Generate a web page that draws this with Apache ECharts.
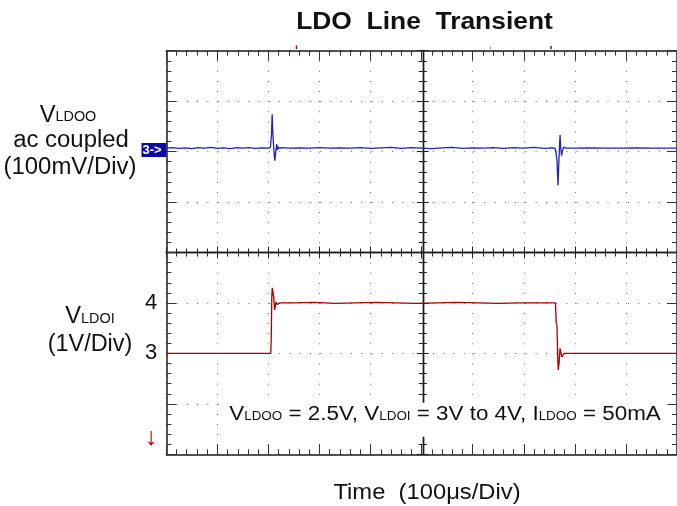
<!DOCTYPE html>
<html><head><meta charset="utf-8">
<script src="https://cdn.jsdelivr.net/npm/echarts@6/dist/echarts.min.js"></script>
<style>html,body{margin:0;padding:0;background:#fff}#c{width:677px;height:506px}</style>
</head><body><div id="c"></div>
<script>
// ---- data ----
// Time axis: 100 µs/div, 10 divisions
const timeMin = 0, timeMax = 1000, timeStep = 100;
// V_LDOO (ac coupled, mV, 100 mV/div)
const blueTimeUs = [0, 12, 25, 38, 50, 62, 75, 88, 100, 112, 125, 138, 150, 162, 175, 188, 200, 204, 206, 207.3, 208.5, 210, 211.5, 212.5, 214, 216, 217.5, 219, 221, 225, 240, 260, 280, 300, 320, 340, 360, 380, 400, 420, 440, 460, 480, 500, 520, 540, 560, 580, 600, 620, 640, 660, 680, 700, 720, 740, 755, 761, 763, 765, 767, 768.5, 770, 771, 772.5, 774, 776, 778, 782, 800, 830, 860, 890, 920, 950, 980, 1000];
const blueMv = [7, 8, 6.5, 7.5, 6, 8, 7, 8.5, 6.5, 7.5, 6, 8, 7, 8, 6.5, 7.5, 7, 9, 35, 74, 40, 12, -8, -18, -4, 15, 3, 10, 6, 8, 7, 7.5, 7, 8, 7, 7.5, 7, 8, 6.5, 7.5, 8.5, 6.5, 8, 7, 6, 7.5, 8.5, 6.5, 7.5, 7, 8, 6.5, 8, 7, 8.5, 6.5, 7.5, 7, -2, -17, -67, -25, 12, 33, 5, -8, 3, 9, 7, 7, 7.5, 7, 7, 7.5, 7, 7, 7];
// V_LDOI (V, 1 V/div)
const redTimeUs = [0, 100, 204.5, 205.5, 206.5, 207.5, 209, 210.5, 212, 213.5, 215, 217, 219, 222, 250, 290, 330, 370, 410, 450, 490, 530, 570, 610, 650, 690, 730, 762, 763.5, 765, 766.5, 767.5, 769, 771, 772.5, 774.5, 776.5, 779, 800, 900, 1000];
const redVolts = [3.0, 3.0, 3.0, 3.3, 4.1, 4.3, 4.28, 4.1, 3.86, 3.87, 4.02, 3.97, 4.0, 4.0, 4.0, 4.01, 3.99, 4.0, 4.01, 4.0, 3.99, 4.0, 4.01, 4.0, 3.99, 4.0, 4.0, 4.0, 3.6, 3.55, 2.9, 2.67, 2.8, 3.1, 3.08, 2.93, 2.95, 3.0, 3.0, 3.0, 3.0];
// Axis ranges / tick labels
const voltMin = 1, voltMax = 9, voltStep = 1;
const voltTickLabels = [3, 4];
const mvMin = -600, mvMax = 200, mvStep = 100;
const divMin = 0, divMax = 8, divStep = 1;      // vertical divisions (frame only)

const FONT = 'Liberation Sans, Arial, Helvetica, sans-serif';
const chart = echarts.init(document.getElementById('c'), null, {renderer: 'canvas'});

const G = {left: 166.3, top: 50.7, width: 513, height: 403.6};
const HH = G.height / 2, HW = G.width / 2;
const borderLine = {show: true, onZero: false, lineStyle: {color: '#1a1a1a', width: 1.5}};
const borderTick = {show: true, inside: true, length: 10, lineStyle: {color: '#333', width: 1}};
const borderMinor = {show: true, splitNumber: 5, length: 5, lineStyle: {color: '#333', width: 1}};
const centerLine = {show: true, onZero: false, lineStyle: {color: '#1a1a1a', width: 1.4}};
const centerTick = {show: true, inside: true, length: 6, lineStyle: {color: '#222', width: 1}};
const centerMinor = {show: true, splitNumber: 5, length: 4, lineStyle: {color: '#222', width: 1}};
const dotX = {show: true, lineStyle: {color: '#707070', width: 1, type: [1, G.height / 40 - 1]}};
const dotY = {show: true, lineStyle: {color: '#707070', width: 1, type: [1, G.width / 50 - 1]}};

function xAx(grid, pos, line, tick, minor, split) {
  return {gridIndex: grid, type: 'value', min: timeMin, max: timeMax, interval: timeStep, position: pos,
    axisLine: line, axisTick: tick, minorTick: minor, axisLabel: {show: false},
    splitLine: split || {show: false}, minorSplitLine: {show: false}};
}
function yAx(grid, pos, min, max, step, line, tick, minor, split, label) {
  return {gridIndex: grid, type: 'value', min: min, max: max, interval: step, position: pos,
    axisLine: line, axisTick: tick, minorTick: minor, axisLabel: label || {show: false},
    splitLine: split || {show: false}, minorSplitLine: {show: false}};
}
function hidden(grid, min, max, step) {
  return {gridIndex: grid, type: 'value', show: false, min: min, max: max, interval: step,
    axisLine: {onZero: false}, splitLine: {show: false}};
}

const option = {
  animation: false,
  backgroundColor: '#ffffff',
  grid: [
    {left: G.left, top: G.top, width: G.width, height: G.height},            // full frame + data
    {left: G.left, top: G.top, width: G.width, height: HH},                  // upper half
    {left: G.left, top: G.top + HH, width: G.width, height: HH},             // lower half
    {left: G.left, top: G.top, width: HW, height: G.height},                 // left half
    {left: G.left + HW, top: G.top, width: HW, height: G.height}             // right half
  ],
  xAxis: [
    xAx(0, 'bottom', borderLine, borderTick, borderMinor, dotX),
    xAx(0, 'top', borderLine, borderTick, borderMinor),
    xAx(1, 'bottom', centerLine, centerTick, centerMinor),
    xAx(2, 'top', centerLine, centerTick, centerMinor),
    hidden(3, 0, 1, 1),
    hidden(4, 0, 1, 1)
  ],
  yAxis: [
    yAx(0, 'left', voltMin, voltMax, voltStep, borderLine, borderTick, borderMinor, dotY,
      {show: true, margin: 9, fontSize: 22, color: '#111', fontFamily: FONT,
       formatter: v => voltTickLabels.includes(v) ? String(v) : ''}),
    yAx(0, 'right', mvMin, mvMax, mvStep, borderLine, borderTick, borderMinor),
    hidden(1, 0, 1, 1),
    hidden(2, 0, 1, 1),
    yAx(3, 'right', divMin, divMax, divStep, centerLine, centerTick, centerMinor),
    yAx(4, 'left', divMin, divMax, divStep, centerLine, centerTick, centerMinor)
  ],
  series: [
    {type: 'line', name: 'VLDOI', xAxisIndex: 0, yAxisIndex: 0, showSymbol: false, symbol: 'none',
     lineStyle: {color: '#a30000', width: 1.3}, z: 3,
     data: redTimeUs.map((t, i) => [t, redVolts[i]])},
    {type: 'line', name: 'VLDOO', xAxisIndex: 0, yAxisIndex: 1, showSymbol: false, symbol: 'none',
     lineStyle: {color: '#2323b4', width: 1.3}, z: 3,
     data: blueTimeUs.map((t, i) => [t, blueMv[i]])}
  ],
  graphic: [
    {type: 'text', x: 424.5, y: 22, z: 10, scaleX: 1.1,
     style: {text: 'LDO  Line  Transient', font: 'bold 24px ' + FONT, fill: '#111', align: 'center', verticalAlign: 'middle'}},
    {type: 'line', z: 10, shape: {x1: 296.5, y1: 45.5, x2: 296.5, y2: 49}, style: {stroke: '#a30000', lineWidth: 1.5}},
    {type: 'line', z: 10, shape: {x1: 490.5, y1: 47, x2: 490.5, y2: 49}, style: {stroke: '#c08080', lineWidth: 1}},
    {type: 'line', z: 10, shape: {x1: 551, y1: 46, x2: 551, y2: 49}, style: {stroke: '#333', lineWidth: 1.5}},
    {type: 'text', x: 68, y: 115.3, z: 10, scaleX: 1.03,
     style: {text: '{b|V}{s|LDOO}', fill: '#111', align: 'center', verticalAlign: 'middle',
       rich: {b: {fontSize: 23, fontFamily: FONT, lineHeight: 23, verticalAlign: 'bottom', fill: '#111'},
              s: {fontSize: 14, fontFamily: FONT, lineHeight: 16.8, verticalAlign: 'bottom', padding: [0, 0, 2.5, 0], fill: '#111'}}}},
    {type: 'text', x: 71, y: 140.8, z: 10, scaleX: 1.04,
     style: {text: 'ac coupled', font: '23px ' + FONT, fill: '#111', align: 'center', verticalAlign: 'middle'}},
    {type: 'text', x: 70, y: 168, z: 10, scaleX: 1.04,
     style: {text: '(100mV/Div)', font: '23px ' + FONT, fill: '#111', align: 'center', verticalAlign: 'middle'}},
    {type: 'text', x: 90, y: 317, z: 10, scaleX: 1.03,
     style: {text: '{b|V}{s|LDOI}', fill: '#111', align: 'center', verticalAlign: 'middle',
       rich: {b: {fontSize: 23, fontFamily: FONT, lineHeight: 23, verticalAlign: 'bottom', fill: '#111'},
              s: {fontSize: 14, fontFamily: FONT, lineHeight: 16.8, verticalAlign: 'bottom', padding: [0, 0, 2.5, 0], fill: '#111'}}}},
    {type: 'text', x: 90, y: 344.5, z: 10, scaleX: 1.02,
     style: {text: '(1V/Div)', font: '23px ' + FONT, fill: '#111', align: 'center', verticalAlign: 'middle'}},
    {type: 'text', x: 151, y: 438, z: 10,
     style: {text: '\u2193', font: '25px ' + FONT, fill: '#a30000', align: 'center', verticalAlign: 'middle'}},
    {type: 'rect', z: 10, shape: {x: 141.5, y: 143, width: 24.8, height: 14}, style: {fill: '#0a0a9e'}},
    {type: 'text', x: 142.5, y: 150.3, z: 11,
     style: {text: '3->', font: 'bold 13px ' + FONT, fill: '#ffffff', align: 'left', verticalAlign: 'middle'}},
    {type: 'text', x: 445, y: 419.8, z: 10, scaleX: 1.12,
     style: {text: '{t|V}{s|LDOO}{t| = 2.5V, V}{s|LDOI}{t| = 3V to 4V, I}{s|LDOO}{t| = 50mA}',
       fill: '#111', align: 'center', verticalAlign: 'middle', backgroundColor: '#ffffff', padding: [2, 6, 12, 6],
       rich: {t: {fontSize: 20, fontFamily: FONT, lineHeight: 20, verticalAlign: 'bottom', fill: '#111'},
              s: {fontSize: 12, fontFamily: FONT, lineHeight: 14.5, verticalAlign: 'bottom', padding: [0, 0, 2, 0], fill: '#111'}}}},
    {type: 'text', x: 427, y: 493, z: 10, scaleX: 1.08,
     style: {text: 'Time  (100\u03bcs/Div)', font: '22px ' + FONT, fill: '#111', align: 'center', verticalAlign: 'middle'}}
  ]
};
chart.setOption(option);
</script></body></html>
